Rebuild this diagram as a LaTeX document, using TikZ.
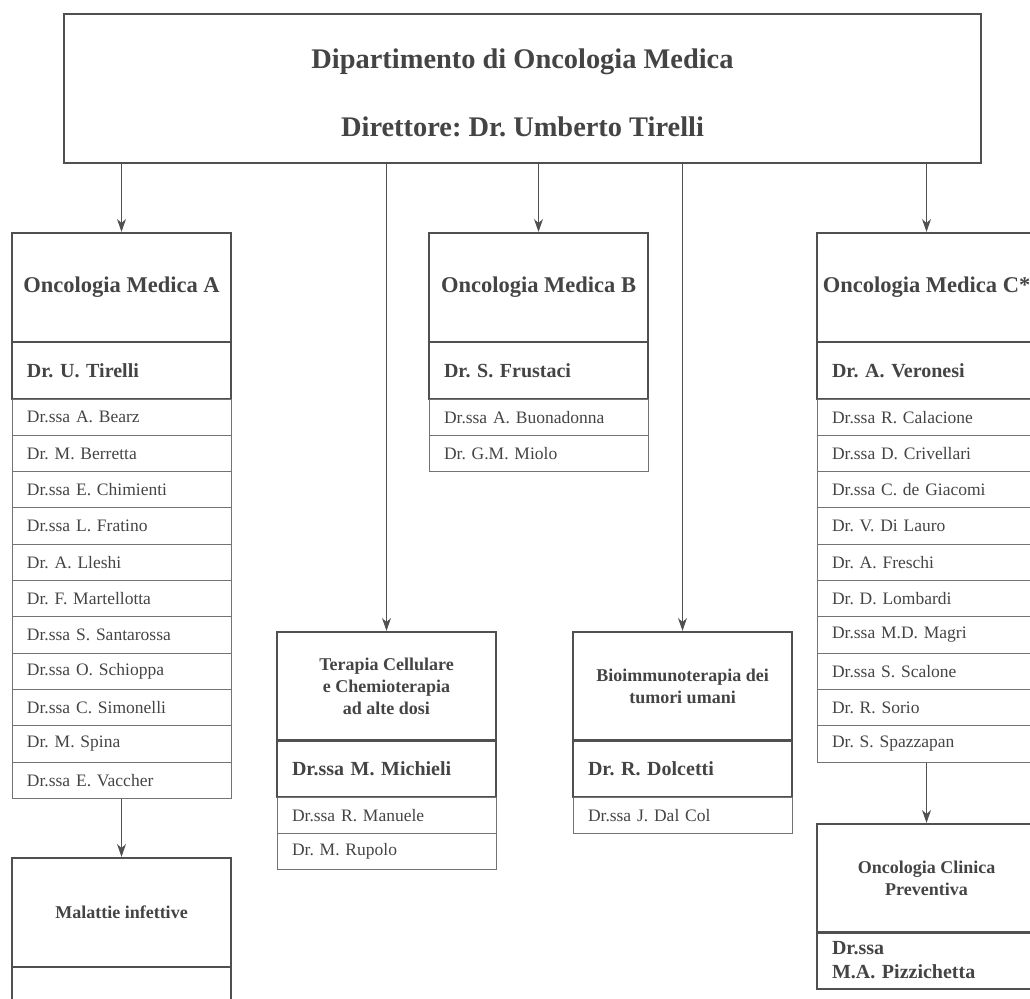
\documentclass[tikz,border=0pt]{standalone}
\usepackage{fontspec}
\setmainfont{Liberation Serif}
\usepackage{xcolor}
\usepackage{tikz}
\usetikzlibrary{arrows.meta}
\definecolor{framegray}{RGB}{80,80,80}
\definecolor{rulegray}{RGB}{115,115,115}
\definecolor{textgray}{RGB}{68,68,68}
\frenchspacing

\begin{document}
\begin{tikzpicture}[
    x=1pt, y=-1pt,
    dept/.style={draw=framegray, line width=2.2pt, minimum width=917pt, minimum height=149pt},
    title/.style={text=textgray, font=\fontsize{28.4}{32}\selectfont\bfseries},
    unitbox/.style={draw=framegray, line width=2.2pt, minimum width=219pt, minimum height=109pt, align=center, text=textgray, font=\fontsize{22.5}{26}\selectfont\bfseries},
    subbox/.style={unitbox, font=\fontsize{18}{22}\selectfont\bfseries},
    headbox/.style={draw=framegray, line width=2.2pt, minimum width=219pt, minimum height=57pt, text width=189pt, inner xsep=15pt, align=left, text=textgray, font=\fontsize{20}{24}\selectfont\bfseries},
    staffbox/.style={draw=rulegray, line width=1pt, minimum width=219pt, minimum height=36.3pt, text width=189pt, inner xsep=15pt, inner ysep=0pt, align=left, text=textgray, font=\fontsize{17.5}{20}\selectfont},
    arrow/.style={-{Stealth[length=13pt,width=9pt]}, line width=1.2pt, framegray}
  ]
    \useasboundingbox (0,0) rectangle (1030,998);
    \clip (0,0) rectangle (1030,998);

    % Department
    \node[dept] (dept) at (522.5,88.5) {};
    \node[title] (deptname) at (522.5,62) {Dipartimento di Oncologia Medica};
    \node[title] (director) at (522.5,127) {Direttore: Dr. Umberto Tirelli};

    % Oncologia Medica A
    \node[unitbox] (medA) at (121.5,287.5) {Oncologia Medica A};
    \node[headbox] (chiefA) at (121.5,370.5) {Dr. U. Tirelli};
    \node[staffbox] (a1) at (121.5,417.2) {Dr.ssa A. Bearz};
    \node[staffbox] (a2) at (121.5,453.5) {Dr. M. Berretta};
    \node[staffbox] (a3) at (121.5,489.8) {Dr.ssa E. Chimienti};
    \node[staffbox] (a4) at (121.5,526.1) {Dr.ssa L. Fratino};
    \node[staffbox] (a5) at (121.5,562.4) {Dr. A. Lleshi};
    \node[staffbox] (a6) at (121.5,598.7) {Dr. F. Martellotta};
    \node[staffbox] (a7) at (121.5,635.0) {Dr.ssa S. Santarossa};
    \node[staffbox] (a8) at (121.5,671.3) {Dr.ssa O. Schioppa};
    \node[staffbox] (a9) at (121.5,707.6) {Dr.ssa C. Simonelli};
    \node[staffbox] (a10) at (121.5,743.9) {Dr. M. Spina};
    \node[staffbox] (a11) at (121.5,780.2) {Dr.ssa E. Vaccher};

    \node[subbox] (infett) at (121.5,912.5) {Malattie infettive};
    \node[headbox] (chiefInf) at (121.5,995.5) {};

    % Oncologia Medica B
    \node[unitbox] (medB) at (538.5,287.5) {Oncologia Medica B};
    \node[headbox] (chiefB) at (538.5,370.5) {Dr. S. Frustaci};
    \node[staffbox] (b1) at (538.5,417.2) {Dr.ssa A. Buonadonna};
    \node[staffbox] (b2) at (538.5,453.5) {Dr. G.M. Miolo};

    % Terapia Cellulare
    \node[subbox] (terapia) at (386.5,686.5) {Terapia Cellulare\\e Chemioterapia\\ad alte dosi};
    \node[headbox] (chiefTer) at (386.5,768.5) {Dr.ssa M. Michieli};
    \node[staffbox] (t1) at (386.5,815.2) {Dr.ssa R. Manuele};
    \node[staffbox] (t2) at (386.5,851.5) {Dr. M. Rupolo};

    % Bioimmunoterapia
    \node[subbox] (bioimm) at (682.5,686.5) {Bioimmunoterapia dei\\tumori umani};
    \node[headbox] (chiefBio) at (682.5,768.5) {Dr. R. Dolcetti};
    \node[staffbox] (i1) at (682.5,815.2) {Dr.ssa J. Dal Col};

    % Oncologia Medica C
    \node[unitbox] (medC) at (926.5,287.5) {Oncologia Medica C*};
    \node[headbox] (chiefC) at (926.5,370.5) {Dr. A. Veronesi};
    \node[staffbox] (c1) at (926.5,417.2) {Dr.ssa R. Calacione};
    \node[staffbox] (c2) at (926.5,453.5) {Dr.ssa D. Crivellari};
    \node[staffbox] (c3) at (926.5,489.8) {Dr.ssa C. de Giacomi};
    \node[staffbox] (c4) at (926.5,526.1) {Dr. V. Di Lauro};
    \node[staffbox] (c5) at (926.5,562.4) {Dr. A. Freschi};
    \node[staffbox] (c6) at (926.5,598.7) {Dr. D. Lombardi};
    \node[staffbox] (c7) at (926.5,635.0) {Dr.ssa M.D. Magri};
    \node[staffbox] (c8) at (926.5,671.3) {Dr.ssa S. Scalone};
    \node[staffbox] (c9) at (926.5,707.6) {Dr. R. Sorio};
    \node[staffbox] (c10) at (926.5,743.9) {Dr. S. Spazzapan};

    \node[subbox] (clinica) at (926.5,878.5) {Oncologia Clinica\\Preventiva};
    \node[headbox] (chiefCli) at (926.5,960.5) {Dr.ssa\\M.A. Pizzichetta};

    % Connections
    \draw[arrow] (medA.north |- dept.south) -- (medA.north);
    \draw[arrow] (terapia.north |- dept.south) -- (terapia.north);
    \draw[arrow] (medB.north |- dept.south) -- (medB.north);
    \draw[arrow] (bioimm.north |- dept.south) -- (bioimm.north);
    \draw[arrow] (medC.north |- dept.south) -- (medC.north);
    \draw[arrow] (a11.south) -- (infett.north);
    \draw[arrow] (c10.south) -- (clinica.north);
  \end{tikzpicture}
\end{document}
